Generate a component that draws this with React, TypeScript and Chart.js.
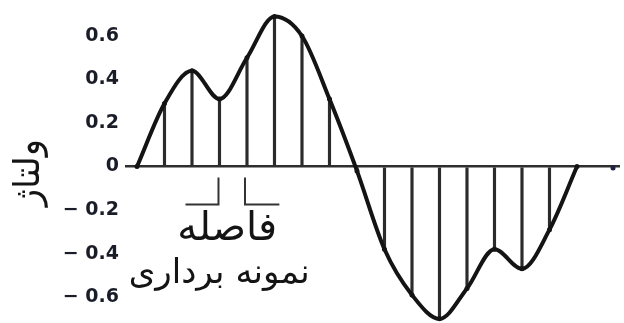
import React, { useEffect, useRef } from "react";
import { Chart, registerables } from "chart.js";

Chart.register(...registerables);

// sample index (time) and sampled voltage
const sampleIndex = [0, 1, 2, 3, 4, 5, 6, 7, 8, 9, 10, 11, 12, 13, 14, 15, 16];
const voltage = [0, 0.29, 0.44, 0.31, 0.5, 0.69, 0.6, 0.31, -0.02, -0.38, -0.59, -0.7, -0.56, -0.38, -0.47, -0.29, 0];

// y-axis ticks
const tickValues = [-0.6, -0.4, -0.2, 0, 0.2, 0.4, 0.6];
const tickLabels = ["− 0.6", "− 0.4", "− 0.2", "0", "0.2", "0.4", "0.6"];

// texts
const yTitle = "ولتاژ";
const intervalLabel1 = "فاصله";
const intervalLabel2 = "نمونه برداری";
// the sampling interval marked under the axis (between these two samples)
const intervalSamples = [3, 4];

const INK = "#141414";

const annotationPlugin = {
  id: "samplingInterval",
  afterDraw(chart: any) {
    const { ctx, scales, chartArea } = chart;
    const xs = scales.x;
    const ys = scales.y;
    const y0 = ys.getPixelForValue(0);
    const xa = xs.getPixelForValue(intervalSamples[0]);
    const xb = xs.getPixelForValue(intervalSamples[1]);
    const gap = xb - xa;
    ctx.save();
    // arrow tip dot on the time axis
    ctx.fillStyle = "#1c2440";
    ctx.beginPath();
    ctx.arc(chartArea.right - 7, y0 + 1.5, 2.5, 0, Math.PI * 2);
    ctx.fill();

    ctx.strokeStyle = "#333";
    ctx.lineWidth = 2;
    ctx.beginPath();
    // left bracket
    ctx.moveTo(xa - 1, y0 + 11);
    ctx.lineTo(xa - 1, y0 + 38);
    ctx.lineTo(xa - 1 - gap * 1.2, y0 + 38);
    // right bracket
    ctx.moveTo(xb - 2, y0 + 11);
    ctx.lineTo(xb - 2, y0 + 38);
    ctx.lineTo(xb - 2 + gap * 1.25, y0 + 38);
    ctx.stroke();

    ctx.fillStyle = INK;
    ctx.textAlign = "center";
    ctx.textBaseline = "alphabetic";
    const cx = (xa + xb) / 2;
    ctx.font = "40px 'DejaVu Sans'";
    ctx.fillText(intervalLabel1, cx - 6, y0 + 73);
    ctx.font = "34px 'DejaVu Sans'";
    ctx.fillText(intervalLabel2, cx - 14, y0 + 116);

    // y-axis title (rotated)
    ctx.translate(30, y0 + 6);
    ctx.rotate(-Math.PI / 2);
    ctx.textBaseline = "middle";
    ctx.font = "36px 'DejaVu Sans'";
    ctx.fillText(yTitle, 0, 0);
    ctx.restore();
  },
};

export default function App() {
  const ref = useRef<HTMLCanvasElement | null>(null);

  useEffect(() => {
    if (!ref.current) return;
    const points = sampleIndex.map((x, i) => ({ x, y: voltage[i] }));
    const chart = new Chart(ref.current, {
      type: "line",
      data: {
        datasets: [
          {
            type: "line",
            label: "signal",
            data: points,
            borderColor: INK,
            borderWidth: 4,
            cubicInterpolationMode: "monotone",
            pointRadius: 2.5,
            pointBackgroundColor: INK,
            pointBorderWidth: 0,
            fill: false,
            clip: false,
            order: 0,
          } as any,
          {
            type: "bar",
            label: "samples",
            data: points,
            backgroundColor: "#2b2b2b",
            barThickness: 2.5,
            clip: false,
            order: 1,
          } as any,
        ],
      },
      options: {
        animation: false,
        responsive: false,
        devicePixelRatio: 1,
        layout: { padding: 0 },
        plugins: {
          legend: { display: false },
          tooltip: { enabled: false },
        },
        scales: {
          x: {
            type: "linear",
            display: false,
            min: -0.436,
            max: 17.564,
            offset: false,
          },
          y: {
            type: "linear",
            min: -0.7006,
            max: 0.747,
            afterFit: (scale: any) => {
              scale.width = 125;
              scale.paddingTop = 0;
              scale.paddingBottom = 0;
            },
            afterBuildTicks: (scale: any) => {
              scale.ticks = tickValues.map((v) => ({ value: v }));
            },
            border: { display: false },
            grid: {
              drawTicks: false,
              color: (c: any) => (c.tick && c.tick.value === 0 ? "#2e2e2e" : "rgba(0,0,0,0)"),
              lineWidth: (c: any) => (c.tick && c.tick.value === 0 ? 2.5 : 0),
            },
            ticks: {
              padding: 6,
              color: "#1a1c28",
              font: { family: "'DejaVu Sans'", size: 19, weight: "bold" },
              callback: (value: any) => {
                const idx = tickValues.findIndex((t) => Math.abs(t - Number(value)) < 1e-6);
                return idx >= 0 ? tickLabels[idx] : "";
              },
            },
            title: { display: false },
          },
        },
      },
      plugins: [annotationPlugin],
    });
    return () => chart.destroy();
  }, []);

  return (
    <div style={{ position: "fixed", left: 0, top: 0, width: 624, height: 323, background: "#fff" }}>
      <canvas ref={ref} width={624} height={323} style={{ width: 624, height: 323, display: "block" }} />
    </div>
  );
}
